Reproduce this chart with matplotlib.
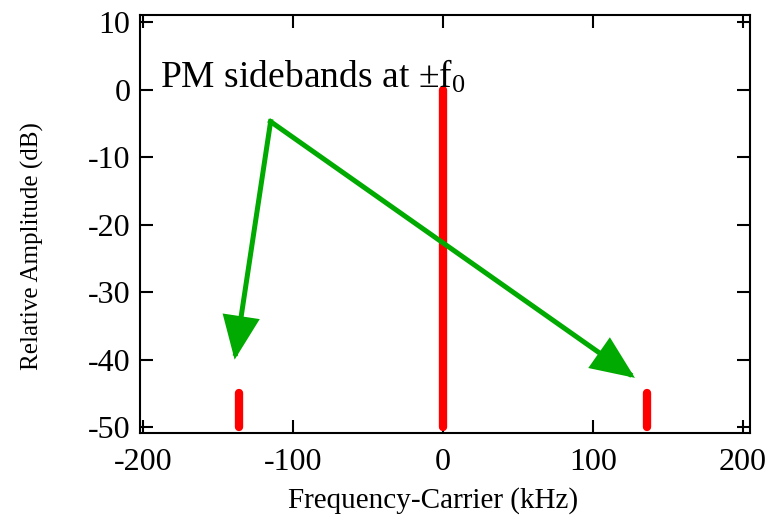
import matplotlib
matplotlib.use("Agg")
import matplotlib.pyplot as plt

plt.rcParams['font.family'] = ['Liberation Serif', 'DejaVu Serif']
plt.rcParams['mathtext.fontset'] = 'custom'
plt.rcParams['mathtext.rm'] = 'Liberation Serif'
plt.rcParams['mathtext.it'] = 'Liberation Serif'
plt.rcParams['axes.unicode_minus'] = False

# spectral lines: carrier and the two PM sidebands
line_freq = [-136, 0, 136]
line_top = [-45, 0, -45]
line_floor = -50

# green arrow path: left tip -> vertex -> right tip
arrow_x = [-139, -115, 128]
arrow_y = [-40, -4.7, -42.7]

xticks = [-200, -100, 0, 100, 200]
yticks = [10, 0, -10, -20, -30, -40, -50]

red = '#ff0000'
green = '#00aa00'

fig = plt.figure(figsize=(7.66, 5.2), dpi=100)
ax = fig.add_axes([0.183, 0.167, 0.796, 0.804])

for f, top in zip(line_freq, line_top):
    ax.plot([f, f], [line_floor, top], color=red, lw=6, solid_capstyle='round')

# two arrows sharing the vertex
vx, vy = arrow_x[1], arrow_y[1]
for ex, ey in [(arrow_x[0], arrow_y[0]), (arrow_x[2], arrow_y[2])]:
    ax.annotate('', xy=(ex, ey), xytext=(vx, vy),
                arrowprops=dict(arrowstyle='-|>,head_length=1.4,head_width=0.6',
                                color=green, lw=3.6, mutation_scale=18,
                                shrinkA=0, shrinkB=0, joinstyle='miter',
                                capstyle='projecting'))

ax.text(-189, 0.3, r'$\mathregular{PM\ sidebands\ at\ {\pm}f_0}$', fontsize=27)

ax.set_xlim(-202, 204.7)
ax.set_ylim(-50.9, 11.1)
ax.set_xticks(xticks)
ax.set_yticks(yticks)
ax.tick_params(direction='in', length=9.5, width=1.5, top=True, right=True,
               labelsize=23)
ax.tick_params(axis='x', pad=11)
ax.tick_params(axis='y', pad=7)
for s in ax.spines.values():
    s.set_linewidth(1.5)

ax.set_xlabel('Frequency-Carrier (kHz)', fontsize=21)
ax.xaxis.set_label_coords(0.48, -0.128)
ax.set_ylabel('Relative Amplitude (dB)', fontsize=18)
ax.yaxis.set_label_coords(-0.158, 0.447)

fig.savefig('out.png', dpi=100)
